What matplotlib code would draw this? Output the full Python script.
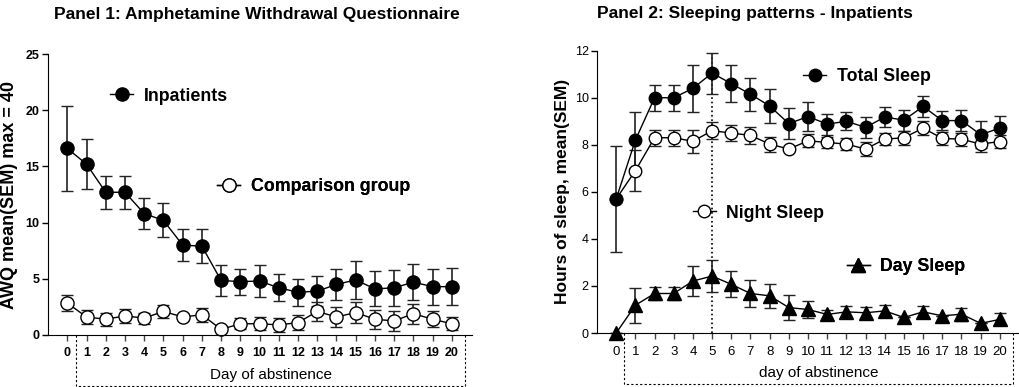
import matplotlib
matplotlib.use("Agg")
import matplotlib.pyplot as plt
import matplotlib.transforms as mtransforms
from matplotlib.lines import Line2D
import numpy as np

plt.rcParams['font.family'] = ['Liberation Sans', 'DejaVu Sans']

days = list(range(21))

# Panel 1: AWQ
inpat = [16.6, 15.2, 12.7, 12.7, 10.8, 10.2, 8.0, 7.9, 4.85, 4.75, 4.8,
         4.2, 3.8, 3.9, 4.5, 4.9, 4.1, 4.2, 4.7, 4.3, 4.3]
inpat_sem = [3.8, 2.2, 1.45, 1.45, 1.4, 1.5, 1.4, 1.5, 1.4, 1.15, 1.4,
             1.2, 1.2, 1.35, 1.35, 1.7, 1.55, 1.6, 1.6, 1.6, 1.65]
comp = [2.85, 1.6, 1.4, 1.7, 1.5, 2.1, 1.6, 1.8, 0.5, 1.0, 1.0,
        0.9, 1.1, 2.1, 1.6, 2.0, 1.4, 1.25, 1.9, 1.4, 1.0]
comp_sem = [0.7, 0.6, 0.6, 0.65, 0.5, 0.6, 0.0, 0.6, 0.0, 0.5, 0.6,
            0.6, 0.7, 0.85, 0.9, 0.9, 0.85, 0.9, 0.9, 0.7, 0.6]

# Panel 2: sleep
total = [5.7, 8.2, 10.0, 10.0, 10.4, 11.05, 10.6, 10.15, 9.65, 8.9, 9.2,
         8.88, 9.0, 8.74, 9.18, 9.05, 9.63, 9.03, 9.03, 8.43, 8.71]
total_sem = [2.25, 1.2, 0.55, 0.55, 1.0, 0.87, 0.8, 0.7, 0.72, 0.66, 0.6,
             0.45, 0.38, 0.44, 0.44, 0.45, 0.45, 0.4, 0.45, 0.57, 0.5]
night = [5.7, 6.9, 8.3, 8.3, 8.15, 8.6, 8.5, 8.4, 8.03, 7.82, 8.17,
         8.1, 8.03, 7.82, 8.24, 8.3, 8.71, 8.27, 8.24, 8.03, 8.14]
night_sem = [0.0, 0.88, 0.35, 0.35, 0.5, 0.35, 0.35, 0.35, 0.32, 0.0, 0.27,
             0.25, 0.27, 0.3, 0.25, 0.3, 0.3, 0.27, 0.28, 0.33, 0.28]
daysleep = [0.0, 1.18, 1.68, 1.68, 2.21, 2.42, 2.07, 1.68, 1.58, 1.08, 1.0,
            0.79, 0.9, 0.86, 0.94, 0.66, 0.9, 0.73, 0.8, 0.41, 0.58]
daysleep_sem = [0.0, 0.75, 0.28, 0.28, 0.65, 0.67, 0.55, 0.57, 0.5, 0.52, 0.35,
                0.2, 0.23, 0.24, 0.23, 0.0, 0.23, 0.0, 0.27, 0.0, 0.25]

fig = plt.figure(figsize=(10.2, 3.87), dpi=100)
ax1 = fig.add_axes([0.0471, 0.1344, 0.4157, 0.726])
ax2 = fig.add_axes([0.5853, 0.1395, 0.4147, 0.7295])

eb = dict(color='black', ecolor='#222222', elinewidth=1.2, capsize=4.4,
          capthick=1.5, lw=1.0)


def draw(ax, y, err, marker, fill, ms):
    c = ax.errorbar(days, y, yerr=err, marker=marker, ms=ms, mfc=fill,
                    mec='black', mew=1.0, **eb)
    for art in c.get_children():
        art.set_clip_on(False)


draw(ax1, comp, comp_sem, 'o', 'white', 9.5)
draw(ax1, inpat, inpat_sem, 'o', 'black', 9.5)

ax2.axvline(5, ymin=0, ymax=1, color='black', ls=':', lw=1.2, zorder=1)
draw(ax2, night, night_sem, 'o', 'white', 9)
draw(ax2, total, total_sem, 'o', 'black', 9)
draw(ax2, daysleep, daysleep_sem, '^', 'black', 9.5)

for ax in (ax1, ax2):
    ax.spines['top'].set_visible(False)
    ax.spines['right'].set_visible(False)
    ax.set_xlim(-1, 21.05)
    ax.set_xticks(days)
    ax.tick_params(axis='x', length=4, width=1, color='#444444', pad=5)
    ax.tick_params(axis='y', length=4, width=1, pad=2)

ax1.set_ylim(0, 25)
ax1.set_yticks([0, 5, 10, 15, 20, 25])
ax1.tick_params(labelsize=9)
for lab in ax1.get_xticklabels() + ax1.get_yticklabels():
    lab.set_fontweight('bold')
ax1.set_ylabel('AWQ mean(SEM) max = 40', fontsize=13, fontweight='bold')
ax1.yaxis.set_label_coords(-0.071, 0.5)
ax1.set_title('Panel 1: Amphetamine Withdrawal Questionnaire', fontsize=12.5,
              fontweight='bold', x=0.492, y=1.095)

ax2.set_ylim(0, 12)
ax2.set_yticks([0, 2, 4, 6, 8, 10, 12])
ax2.tick_params(axis='x', labelsize=9.5)
ax2.tick_params(axis='y', labelsize=9)
ax2.set_ylabel('Hours of sleep, mean(SEM)', fontsize=12.5, fontweight='bold')
ax2.yaxis.set_label_coords(-0.064, 0.5)
ax2.set_title('Panel 2: Sleeping patterns - Inpatients', fontsize=12.5,
              fontweight='bold', x=0.374, y=1.085)

# dashed bracket under the x axis
for ax, x0, x1, yb, txt in ((ax1, 0.45, 20.7, -0.18, 'Day of abstinence'),
                            (ax2, 0.43, 20.69, -0.181, 'day of abstinence')):
    tr = mtransforms.blended_transform_factory(ax.transData, ax.transAxes)
    ax.plot([x0, x0, x1, x1], [0, yb, yb, 0], transform=tr, color='black',
            ls=(0, (2, 2)), lw=0.8, clip_on=False)
    ax.text((x0 + x1) / 2, -0.142, txt, transform=tr, ha='center',
            va='center', fontsize=11)


def add_key(ax, label, x, y, marker, fill, ms):
    h = Line2D([], [], color='black', lw=1.0, marker=marker, ms=ms,
               mfc=fill, mec='black')
    leg = ax.legend(handles=[h], labels=[label], loc='center left',
                    bbox_to_anchor=(x, y), frameon=False, borderpad=0,
                    borderaxespad=0, handlelength=1.3, handletextpad=0.6,
                    prop={'weight': 'bold', 'size': 12.8})
    ax.add_artist(leg)


add_key(ax1, 'Inpatients', 0.146, 0.85, 'o', 'black', 9.5)
add_key(ax1, 'Comparison group', 0.399, 0.527, 'o', 'white', 9.5)
add_key(ax2, 'Total Sleep', 0.487, 0.908, 'o', 'black', 9)
add_key(ax2, 'Night Sleep', 0.226, 0.425, 'o', 'white', 9)
add_key(ax2, 'Day Sleep', 0.59, 0.235, '^', 'black', 9.5)

fig.savefig('out.png', dpi=100)
